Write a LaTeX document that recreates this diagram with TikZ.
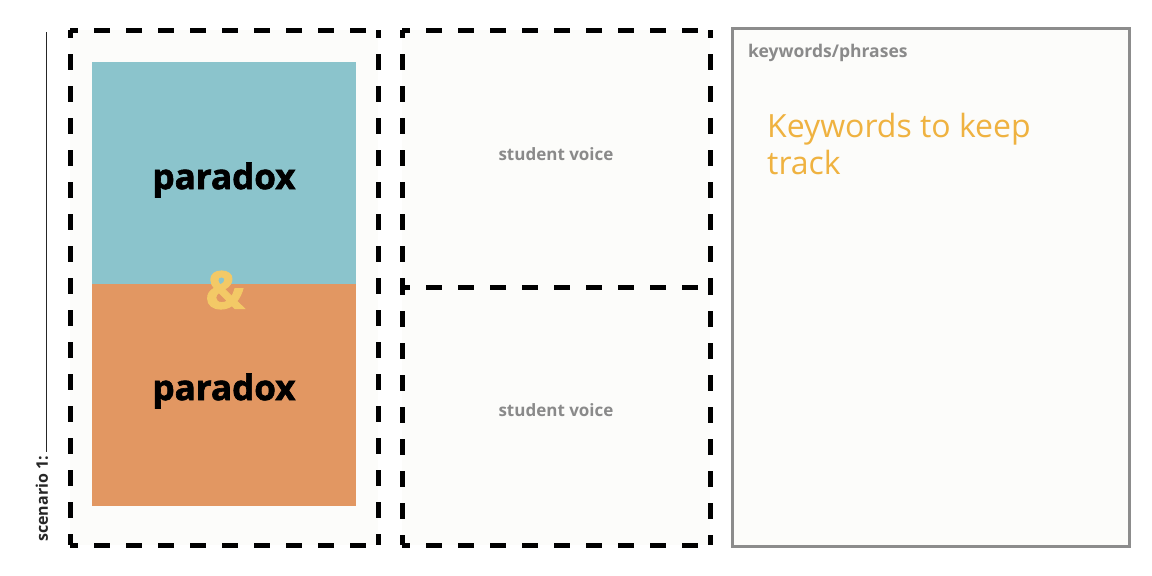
\documentclass[tikz,border=0pt]{standalone}
\usepackage{fontspec}
\setmainfont{Open Sans}
\newfontfamily\heavy[BoldFeatures={FakeBold=1.8}]{Open Sans}
\definecolor{paper}{HTML}{FFFFFF}
\definecolor{boxfill}{HTML}{FCFCFA}
\definecolor{teal}{HTML}{8BC4CC}
\definecolor{clay}{HTML}{E29762}
\definecolor{amp}{HTML}{F3C966}
\definecolor{note}{HTML}{EFB240}
\definecolor{label}{HTML}{8A8A8A}
\definecolor{frame}{HTML}{8C8C8C}
\tikzset{
  area/.style={rectangle, draw=none, fill=boxfill, inner sep=0pt, anchor=north west},
  dashside/.style={line width=5pt, black, dash pattern=on 16pt off 16pt, dash phase=8pt},
  block/.style={rectangle, draw=none, inner sep=0pt, anchor=north west},
  bigword/.style={font=\fontsize{35}{40}\selectfont\heavy\bfseries, text=black},
  smalllabel/.style={font=\fontsize{17}{19}\selectfont\bfseries, text=label},
}
\begin{document}
\begin{tikzpicture}[x=1pt,y=-1pt]
\useasboundingbox (0,0) rectangle (1152,576);
\fill[paper] (0,0) rectangle (1152,576);

% three dashed panels
\node[area, minimum width=308pt, minimum height=515pt] (left) at (70,30) {};
\node[area, minimum width=308pt, minimum height=257pt] (midtop) at (402,30) {};
\node[area, minimum width=308pt, minimum height=258pt] (midbot) at (402,287) {};

\foreach \p in {left,midtop,midbot}{
  \draw[dashside] (\p.north west) -- (\p.north east);
  \draw[dashside] (\p.north east) -- (\p.south east);
  \draw[dashside] (\p.south west) -- (\p.south east);
  \draw[dashside] (\p.north west) -- (\p.south west);
}

% keywords panel
\node[area, draw=frame, line width=3pt, minimum width=397pt, minimum height=518pt] (right) at (731,27) {};

% paradox blocks
\node[block, fill=teal, minimum width=264pt, minimum height=222pt] (top) at (92,62) {};
\node[block, fill=clay, minimum width=264pt, minimum height=222pt] (bottom) at (92,284) {};
\node[bigword] (p1) at (224,180) {paradox};
\node[bigword] (p2) at (224,391) {paradox};
\node[font=\fontsize{52}{56}\selectfont\heavy\bfseries, text=amp] (and) at (225,290) {\&};

% student voice labels
\node[smalllabel] (sv1) at (556,154) {student voice};
\node[smalllabel] (sv2) at (556,410) {student voice};

% keywords text
\node[smalllabel, anchor=west, inner sep=0pt, font=\fontsize{17.5}{19}\selectfont\bfseries] (kw) at (748,53) {keywords/phrases};
\node[anchor=north west, align=left, text=note, font=\fontsize{32}{37}\selectfont, inner sep=0pt] (track) at (767,113) {Keywords to keep\\track};

% scenario label
\node[rotate=90, anchor=west, font=\fontsize{16}{18}\selectfont\bfseries, text=black!85, inner sep=0pt] (scen) at (42,542) {scenario 1:};
\coordinate (lineend) at (46,32);
\draw[line width=1pt, black!85] ([xshift=4pt, yshift=4pt]scen.east) -- (lineend);
\end{tikzpicture}
\end{document}
